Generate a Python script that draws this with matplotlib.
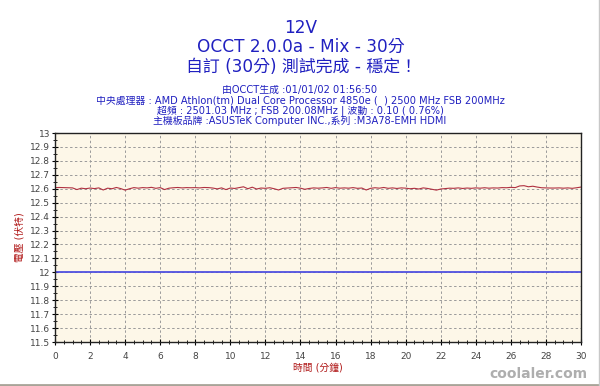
import matplotlib
matplotlib.use("Agg")
import matplotlib.pyplot as plt
from matplotlib.ticker import MultipleLocator
from matplotlib.lines import Line2D

plt.rcParams['font.family'] = ['DejaVu Sans', 'Noto Sans CJK TC']

# voltage readings, one every 15 s over 30 minutes
minutes = [i * 0.25 for i in range(121)]
volts = [
    12.608, 12.609, 12.608, 12.607, 12.606, 12.594, 12.604, 12.600, 12.605, 12.601,
    12.606, 12.591, 12.604, 12.600, 12.609, 12.601, 12.590, 12.600, 12.608, 12.604,
    12.608, 12.606, 12.610, 12.603, 12.608, 12.594, 12.604, 12.607, 12.609, 12.606,
    12.608, 12.607, 12.608, 12.606, 12.609, 12.608, 12.605, 12.599, 12.606, 12.594,
    12.605, 12.602, 12.608, 12.614, 12.600, 12.611, 12.598, 12.605, 12.603, 12.607,
    12.600, 12.591, 12.603, 12.605, 12.607, 12.609, 12.604, 12.596, 12.602, 12.606,
    12.604, 12.606, 12.609, 12.603, 12.608, 12.604, 12.606, 12.604, 12.608, 12.603,
    12.605, 12.591, 12.603, 12.607, 12.604, 12.609, 12.603, 12.606, 12.602, 12.606,
    12.604, 12.600, 12.603, 12.598, 12.606, 12.602, 12.596, 12.590, 12.598, 12.601,
    12.604, 12.603, 12.606, 12.602, 12.605, 12.603, 12.606, 12.604, 12.607, 12.604,
    12.606, 12.605, 12.608, 12.607, 12.610, 12.608, 12.620, 12.622, 12.614, 12.618,
    12.612, 12.607, 12.606, 12.605, 12.605, 12.606, 12.604, 12.606, 12.603, 12.607,
    12.612,
]
ref_volts = [12.0, 12.0]
ref_minutes = [0, 30]

title_lines = ["12V", "OCCT 2.0.0a - Mix - 30分", "自訂 (30分) 測試完成 - 穩定！"]
info_lines = [
    "由OCCT生成 :01/01/02 01:56:50",
    "中央處理器 : AMD Athlon(tm) Dual Core Processor 4850e (  ) 2500 MHz FSB 200MHz",
    "超頻 : 2501.03 MHz ; FSB 200.08MHz | 波動 : 0.10 ( 0.76%)",
    "主機板品牌 :ASUSTeK Computer INC.,系列 :M3A78-EMH HDMI",
]

fig = plt.figure(figsize=(6, 3.86), dpi=100)
ax = fig.add_axes([55 / 600, 1 - 342 / 386, 526 / 600, 209 / 386])
ax.set_facecolor('#fdf7e8')

ax.plot(ref_minutes, ref_volts, color='#5050e0', linewidth=1.3)
ax.plot(minutes, volts, color='#b03040', linewidth=0.8)

ax.set_xlim(0, 30)
ax.set_ylim(11.5, 13)
ax.xaxis.set_major_locator(MultipleLocator(2))
ax.xaxis.set_minor_locator(MultipleLocator(0.5))
ax.yaxis.set_major_locator(MultipleLocator(0.1))
ax.yaxis.set_minor_locator(MultipleLocator(0.05))
ax.set_yticklabels([f"{v:g}" for v in ax.get_yticks()])
ax.tick_params(which='major', direction='inout', length=5, width=0.8,
               labelsize=6.5, labelcolor='#444444', pad=1)
ax.tick_params(which='minor', direction='inout', length=3, width=0.6)
ax.tick_params(axis='x', pad=5)
ax.grid(True, which='major', color='#9a9a9a', linestyle=(0, (2.5, 2.5)), linewidth=0.7)
for s in ax.spines.values():
    s.set_linewidth(1.0)
    s.set_color('#222222')

ax.set_xlabel("時間 (分鐘)", color='#b01818', fontsize=7, labelpad=1)
ax.set_ylabel("電壓 (伏特)", color='#b01818', fontsize=7, labelpad=4)

ys = [28, 47, 67]
for t, y in zip(title_lines, ys):
    fig.text(301 / 600, 1 - y / 386, t, ha='center', va='center',
             color='#2020c0', fontsize=12.2)
for i, t in enumerate(info_lines):
    fig.text(300 / 600, 1 - (90 + i * 10.3) / 386, t, ha='center', va='center',
             color='#2020c0', fontsize=7.1)

fig.text(538 / 600, 1 - 374 / 386, "coolaler.com", ha='center', va='center',
         color='#9a9a9a', fontsize=10, fontweight='bold', alpha=0.8)

fig.add_artist(Line2D([0, 1], [1.5 / 386, 1.5 / 386], transform=fig.transFigure,
                      color='#a8a498', linewidth=2))
fig.add_artist(Line2D([598.5 / 600, 598.5 / 600], [0, 1], transform=fig.transFigure,
                      color='#c8c8c8', linewidth=1))

fig.savefig("out.png", dpi=100)
